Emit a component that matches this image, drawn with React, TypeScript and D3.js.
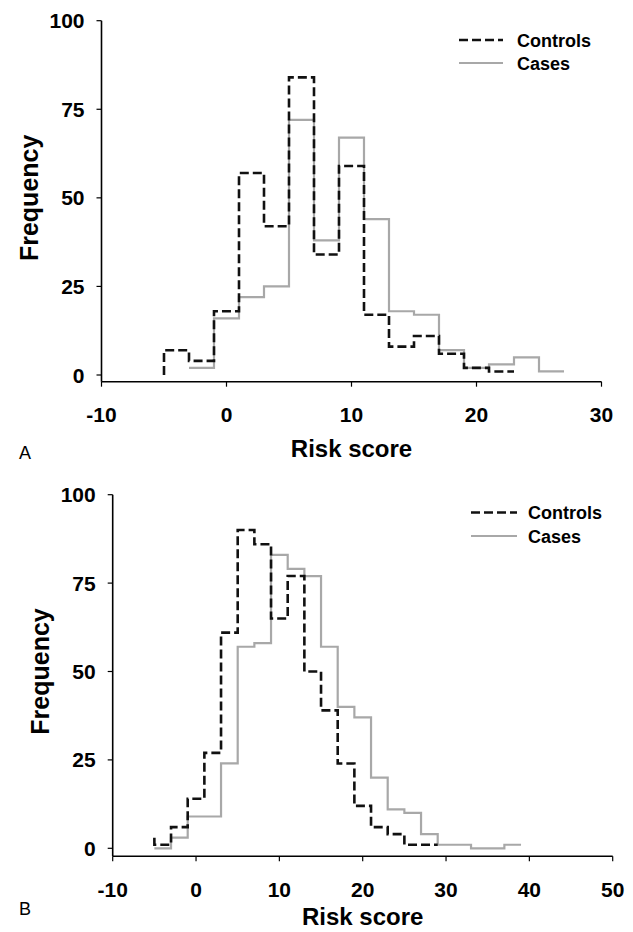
import React from "react";
import * as d3 from "d3";

// histogram bins are 2 risk-score units wide
const binWidth = 2;

const yTicks = [0, 25, 50, 75, 100];
const aXTicks = [-10, 0, 10, 20, 30];
const bXTicks = [-10, 0, 10, 20, 30, 40, 50];

// panel A
const aControlsStart = -5;
const aControls = [7, 4, 18, 57, 42, 84, 34, 59, 17, 8, 11, 6, 2, 1];
const aCasesStart = -3;
const aCases = [2, 16, 22, 25, 72, 38, 67, 44, 18, 17, 7, 2, 3, 5, 1];

// panel B
const bControlsStart = -5;
const bControlsLead = 3;
const bControls = [1, 6, 14, 27, 61, 90, 86, 65, 77, 50, 39, 24, 12, 6, 4, 1, 1];
const bCasesStart = -5;
const bCases = [0, 3, 9, 9, 24, 57, 58, 83, 79, 77, 57, 40, 37, 20, 11, 10, 4, 1, 1, 0, 0, 1];

const seriesNames = ["Controls", "Cases"];

const font = "'Liberation Sans', Arial, Helvetica, sans-serif";
const controlsStyle = { stroke: "#111", strokeWidth: 2.6, strokeDasharray: "9,4" };
const casesStyle = { stroke: "#a8a8a8", strokeWidth: 2.2, strokeDasharray: "none" };

type Series = { start: number; values: number[]; lead: number | null };

const stepPoints = (s: Series): [number, number][] => {
  const pts: [number, number][] = [];
  if (s.lead !== null) pts.push([s.start, s.lead]);
  s.values.forEach((v, i) => pts.push([s.start + i * binWidth, v]));
  pts.push([s.start + s.values.length * binWidth, s.values[s.values.length - 1]]);
  return pts;
};

type PanelProps = {
  left: number;
  right: number;
  yTop: number;
  yBase: number;
  axisY: number;
  xDomain: [number, number];
  xTicks: number[];
  controls: Series;
  cases: Series;
  letter: string;
  titleDy: number;
  letterDy: number;
  legend: { x0: number; x1: number; tx: number; y1: number; y2: number };
};

const Panel = (p: PanelProps) => {
  const { left, right, yTop, yBase, axisY, xDomain, xTicks, controls, cases, letter, legend } = p;
  const x = d3.scaleLinear().domain(xDomain).range([left, right]);
  const y = d3.scaleLinear().domain([0, 100]).range([yBase, yTop]);
  const line = d3
    .line<[number, number]>()
    .x((d) => x(d[0]))
    .y((d) => y(d[1]))
    .curve(d3.curveStepAfter);

  const midX = (left + right) / 2;
  const midY = (yTop + yBase) / 2;

  return (
    <g>
      {/* axes */}
      <line x1={left} x2={left} y1={y(100)} y2={axisY} stroke="#000" strokeWidth={1.6} />
      <line x1={left} x2={right} y1={axisY} y2={axisY} stroke="#000" strokeWidth={1.6} />
      {yTicks.map((t) => (
        <g key={"y" + t}>
          <line x1={left - 5} x2={left} y1={y(t)} y2={y(t)} stroke="#000" strokeWidth={1.2} />
          <text x={left - 17} y={y(t) + 7.5} textAnchor="end" fontSize={21} fontWeight="bold" fontFamily={font}>
            {t}
          </text>
        </g>
      ))}
      {xTicks.map((t) => (
        <g key={"x" + t}>
          <line x1={x(t)} x2={x(t)} y1={axisY} y2={axisY + 5} stroke="#000" strokeWidth={1.2} />
          <text x={x(t)} y={axisY + 40.5} textAnchor="middle" fontSize={21} fontWeight="bold" fontFamily={font}>
            {t}
          </text>
        </g>
      ))}
      <text x={midX} y={axisY + p.titleDy} textAnchor="middle" fontSize={24} fontWeight="bold" fontFamily={font}>
        Risk score
      </text>
      <text
        transform={`translate(${left - 64}, ${midY}) rotate(-90)`}
        textAnchor="middle"
        fontSize={25}
        fontWeight="bold"
        fontFamily={font}
      >
        Frequency
      </text>
      <text x={25} y={axisY + p.letterDy} textAnchor="middle" fontSize={18} fontFamily={font}>
        {letter}
      </text>

      {/* histograms */}
      <path d={line(stepPoints(cases)) || ""} fill="none" {...casesStyle} />
      <path d={line(stepPoints(controls)) || ""} fill="none" {...controlsStyle} />

      {/* legend */}
      <line x1={legend.x0} x2={legend.x1} y1={legend.y1} y2={legend.y1} {...controlsStyle} />
      <line x1={legend.x0} x2={legend.x1} y1={legend.y2} y2={legend.y2} {...casesStyle} />
      <text x={legend.tx} y={legend.y1 + 6.5} fontSize={18} fontWeight="bold" fontFamily={font}>
        {seriesNames[0]}
      </text>
      <text x={legend.tx} y={legend.y2 + 6.5} fontSize={18} fontWeight="bold" fontFamily={font}>
        {seriesNames[1]}
      </text>
    </g>
  );
};

const App = () => {
  return (
    <svg
      width={633}
      height={932}
      style={{ position: "absolute", top: 0, left: 0, background: "#fff" }}
    >
      <rect width={633} height={932} fill="#fff" />
      <Panel
        left={101.5}
        right={601.5}
        yTop={20.7}
        yBase={375}
        axisY={381.7}
        xDomain={[-10, 30]}
        xTicks={aXTicks}
        controls={{ start: aControlsStart, values: aControls, lead: 0 }}
        cases={{ start: aCasesStart, values: aCases, lead: null }}
        letter="A"
        titleDy={75}
        letterDy={77}
        legend={{ x0: 459, x1: 503, tx: 517, y1: 40, y2: 63 }}
      />
      <Panel
        left={112.7}
        right={612.7}
        yTop={494.7}
        yBase={848.3}
        axisY={856.3}
        xDomain={[-10, 50]}
        xTicks={bXTicks}
        controls={{ start: bControlsStart, values: bControls, lead: bControlsLead }}
        cases={{ start: bCasesStart, values: bCases, lead: 0 }}
        letter="B"
        titleDy={69}
        letterDy={59}
        legend={{ x0: 471, x1: 517, tx: 528, y1: 512.5, y2: 536 }}
      />
    </svg>
  );
};

export default App;
